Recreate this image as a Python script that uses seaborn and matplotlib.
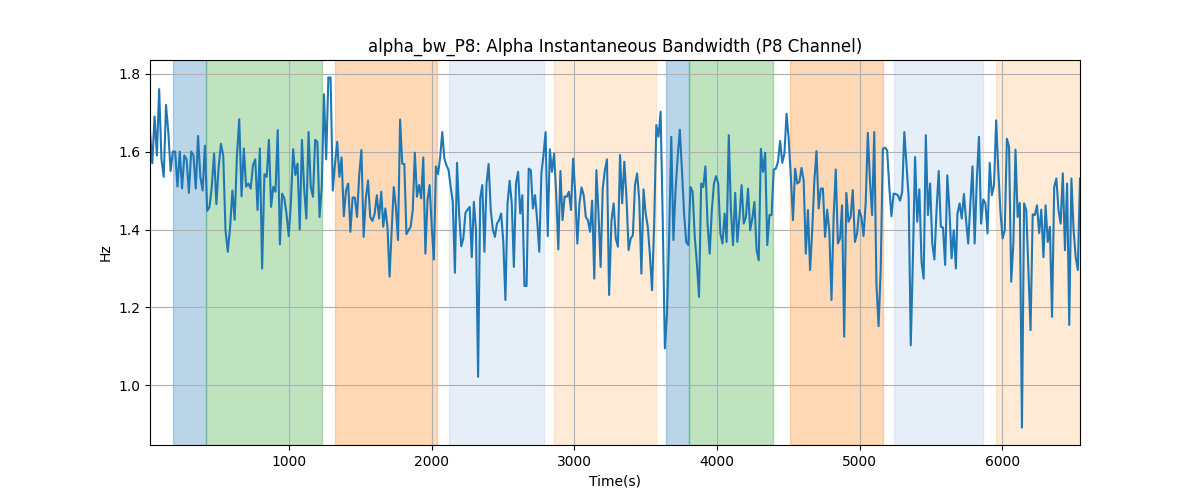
import numpy as np
import matplotlib
matplotlib.use("Agg")
import matplotlib.pyplot as plt
import seaborn as sns

# time range (s) covered by each chunk of samples
seg_start = [25, 843, 1660, 2457, 3260, 4067, 4876, 5685]
seg_end   = [827, 1646, 2443, 3243, 4053, 4862, 5674, 6544]

seg1 = [1.65, 1.57, 1.69, 1.59, 1.76, 1.58, 1.535, 1.72, 1.65, 1.55, 1.60, 1.60, 1.51, 1.60, 1.505,
        1.59, 1.58, 1.494, 1.60, 1.59, 1.505, 1.64, 1.535, 1.50, 1.615, 1.448, 1.458, 1.51, 1.595,
        1.465, 1.56, 1.62, 1.59, 1.398, 1.343, 1.405, 1.50, 1.425, 1.59, 1.683, 1.485, 1.608, 1.51,
        1.518, 1.505, 1.565, 1.58, 1.45, 1.608, 1.30, 1.542]
seg2 = [1.535, 1.63, 1.458, 1.51, 1.497, 1.655, 1.362, 1.492, 1.48, 1.44, 1.383, 1.47, 1.606, 1.54,
        1.569, 1.40, 1.63, 1.505, 1.428, 1.65, 1.51, 1.484, 1.63, 1.625, 1.432, 1.51, 1.747, 1.58,
        1.79, 1.79, 1.50, 1.569, 1.625, 1.535, 1.585, 1.434, 1.50, 1.518, 1.394, 1.482, 1.482, 1.432,
        1.54, 1.604, 1.381, 1.48, 1.526, 1.432, 1.422, 1.44, 1.488, 1.428, 1.497]
seg3 = [1.407, 1.454, 1.407, 1.279, 1.398, 1.509, 1.458, 1.373, 1.682, 1.569, 1.568, 1.388, 1.398,
        1.407, 1.45, 1.597, 1.484, 1.514, 1.48, 1.585, 1.338, 1.475, 1.514, 1.407, 1.323, 1.562,
        1.542, 1.585, 1.65, 1.582, 1.565, 1.552, 1.509, 1.471, 1.289, 1.571, 1.441, 1.357, 1.377,
        1.443, 1.451, 1.458, 1.329, 1.471, 1.398, 1.022, 1.48, 1.514, 1.343, 1.518, 1.568, 1.45,
        1.40, 1.381]
seg4 = [1.415, 1.424, 1.441, 1.368, 1.219, 1.467, 1.525, 1.467, 1.304, 1.518, 1.548, 1.441, 1.488,
        1.255, 1.255, 1.556, 1.552, 1.454, 1.488, 1.424, 1.343, 1.544, 1.591, 1.65, 1.383, 1.606,
        1.548, 1.595, 1.492, 1.349, 1.55, 1.424, 1.485, 1.484, 1.497, 1.45, 1.582, 1.492, 1.364,
        1.467, 1.508, 1.488, 1.432, 1.424, 1.394, 1.474, 1.274, 1.552, 1.441, 1.304, 1.505, 1.552,
        1.58, 1.232]
seg5 = [1.424, 1.467, 1.377, 1.356, 1.591, 1.467, 1.574, 1.484, 1.347, 1.377, 1.385, 1.514, 1.544,
        1.475, 1.287, 1.503, 1.441, 1.407, 1.334, 1.244, 1.415, 1.668, 1.638, 1.702, 1.424, 1.095,
        1.185, 1.381, 1.638, 1.373, 1.501, 1.586, 1.656, 1.552, 1.441, 1.368, 1.36, 1.509, 1.497,
        1.381, 1.313, 1.227, 1.518, 1.509, 1.562, 1.415, 1.338, 1.45, 1.518, 1.537, 1.518, 1.39,
        1.364, 1.441]
seg6 = [1.368, 1.642, 1.45, 1.36, 1.494, 1.368, 1.432, 1.514, 1.415, 1.432, 1.505, 1.398, 1.428,
        1.471, 1.347, 1.321, 1.607, 1.548, 1.597, 1.36, 1.437, 1.437, 1.554, 1.556, 1.574, 1.627,
        1.571, 1.595, 1.697, 1.633, 1.535, 1.424, 1.556, 1.518, 1.522, 1.558, 1.526, 1.338, 1.45,
        1.296, 1.398, 1.526, 1.601, 1.454, 1.505, 1.505, 1.381, 1.451, 1.394, 1.219, 1.432, 1.554,
        1.364, 1.377]
seg7 = [1.462, 1.125, 1.494, 1.42, 1.432, 1.501, 1.368, 1.39, 1.45, 1.432, 1.383, 1.467, 1.648,
        1.526, 1.437, 1.65, 1.262, 1.152, 1.296, 1.607, 1.61, 1.603, 1.509, 1.434, 1.492, 1.491,
        1.488, 1.474, 1.497, 1.65, 1.569, 1.484, 1.103, 1.33, 1.586, 1.42, 1.503, 1.317, 1.274,
        1.642, 1.437, 1.518, 1.364, 1.323, 1.45, 1.55, 1.407, 1.405, 1.309, 1.539, 1.45, 1.326,
        1.398, 1.30]
seg8 = [1.441, 1.467, 1.428, 1.491, 1.424, 1.364, 1.467, 1.562, 1.364, 1.526, 1.638, 1.415, 1.477,
        1.467, 1.39, 1.571, 1.488, 1.514, 1.68, 1.552, 1.445, 1.377, 1.398, 1.633, 1.612, 1.266,
        1.364, 1.605, 1.432, 1.468, 0.892, 1.467, 1.45, 1.296, 1.142, 1.439, 1.437, 1.462, 1.391,
        1.451, 1.329, 1.462, 1.368, 1.407, 1.176, 1.509, 1.531, 1.45, 1.415, 1.544, 1.347, 1.518,
        1.155, 1.531, 1.40, 1.329, 1.296, 1.531]
bw_parts = [seg1, seg2, seg3, seg4, seg5, seg6, seg7, seg8]

# shaded state intervals (start, end, colour)
span_start = [186, 418, 1323, 2123, 2860, 3639, 3800, 4509, 5239, 5954]
span_end   = [418, 1232, 2039, 2789, 3575, 3800, 4389, 5161, 5863, 6544]
span_color = ["C0", "C2", "C1", "#aec7e8", "#ffbb78", "C0", "C2", "C1", "#aec7e8", "#ffbb78"]

t = np.concatenate([np.linspace(s, e, len(v)) for s, e, v in zip(seg_start, seg_end, bw_parts)])
bw = np.concatenate([np.array(v) for v in bw_parts])

fig, ax = plt.subplots(figsize=(12, 5), dpi=100)

for s, e, c in zip(span_start, span_end, span_color):
    ax.axvspan(s, e, color=c, alpha=0.3)

sns.lineplot(x=t, y=bw, ax=ax, color="C0", linewidth=1.5)

ax.set_xlim(t.min(), t.max())
ax.set_title("alpha_bw_P8: Alpha Instantaneous Bandwidth (P8 Channel)")
ax.set_xlabel("Time(s)")
ax.set_ylabel("Hz")
ax.grid(True)

plt.savefig("out.png", dpi=100)
